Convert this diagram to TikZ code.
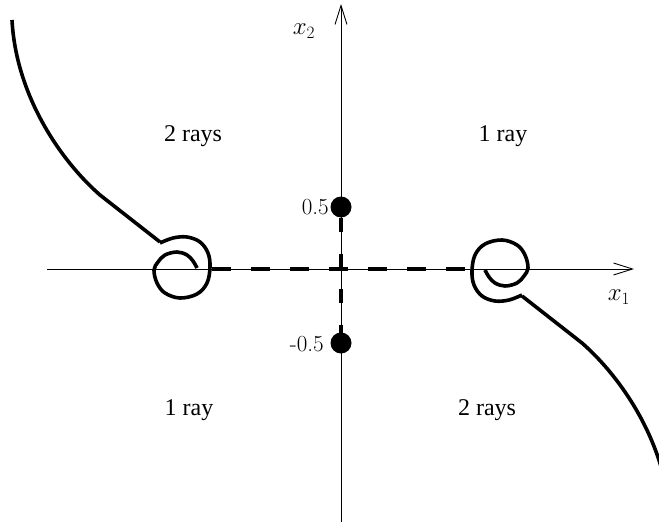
\documentclass[tikz,border=0pt]{standalone}
\usepackage{fontspec}
\newfontfamily\tms{Liberation Serif}
\usetikzlibrary{arrows.meta}
\begin{document}
\begin{tikzpicture}[x=1pt,y=-1pt,
  axis/.style={line width=0.9pt,-{Straight Barb[length=19pt,width=12pt,line width=0.9pt]}},
  curve/.style={line width=3.6pt,line join=round},
  dashline/.style={line width=3.6pt,dash pattern=on 19pt off 20pt},
  vdashline/.style={line width=3.6pt,dash pattern=on 14pt off 21.5pt},
  lbl/.style={font=\tms\fontsize{24}{28}\selectfont,inner sep=0pt},
  num/.style={font=\fontsize{23}{27}\selectfont,inner sep=0pt},
  dot/.style={circle,fill=black,minimum size=21pt,inner sep=0pt}]
\useasboundingbox (0,0) rectangle (659,522);
% axes
\coordinate (xs) at (47,269);
\coordinate (xe) at (634,269);
\coordinate (ys) at (341,522);
\coordinate (ye) at (341,4);
\draw[axis] (xs) -- (xe);
\draw[axis] (ys) -- (ye);
\node[num] (x1) at (619,297) {$x_1$};
\node[num] (x2) at (304,31) {$x_2$};
% dots
\node[dot] (p) at (341,207) {};
\node[dot] (m) at (341,343) {};
\node[num,anchor=east] (pl) at (329,207) {0.5};
\node[num,anchor=east] (ml) at (324,344) {-0.5};
% dashed segments
\coordinate (hl) at (212,269);
\coordinate (hr) at (472,269);
\coordinate (vt) at (341,218);
\coordinate (vb) at (341,335);
\draw[dashline] (hl) -- (hr);
\draw[vdashline] (vt) -- (vb);
% left spiral and tail, then its point reflection
\foreach \r in {0,180}{
\begin{scope}[rotate around={\r:(341,269)}]
\draw[curve] (12,20) .. controls (16,95) and (60,160) .. (100,195) -- (160,242);
\draw[curve] plot[smooth,tension=0.6] coordinates {(160,243) (173,238) (187,237) (200,242) (208,253) (210,267) (207,283) (197,294) (180,298) (165,293) (157,283) (154,270) (158,262) (165,255) (177,252) (187,255) (193,261) (197,268)};
\end{scope}}
% region labels
\node[lbl] (a) at (193,136) {2 rays};
\node[lbl] (b) at (503,136) {1 ray};
\node[lbl] (c) at (189,410) {1 ray};
\node[lbl] (d) at (487,410) {2 rays};
\end{tikzpicture}
\end{document}
